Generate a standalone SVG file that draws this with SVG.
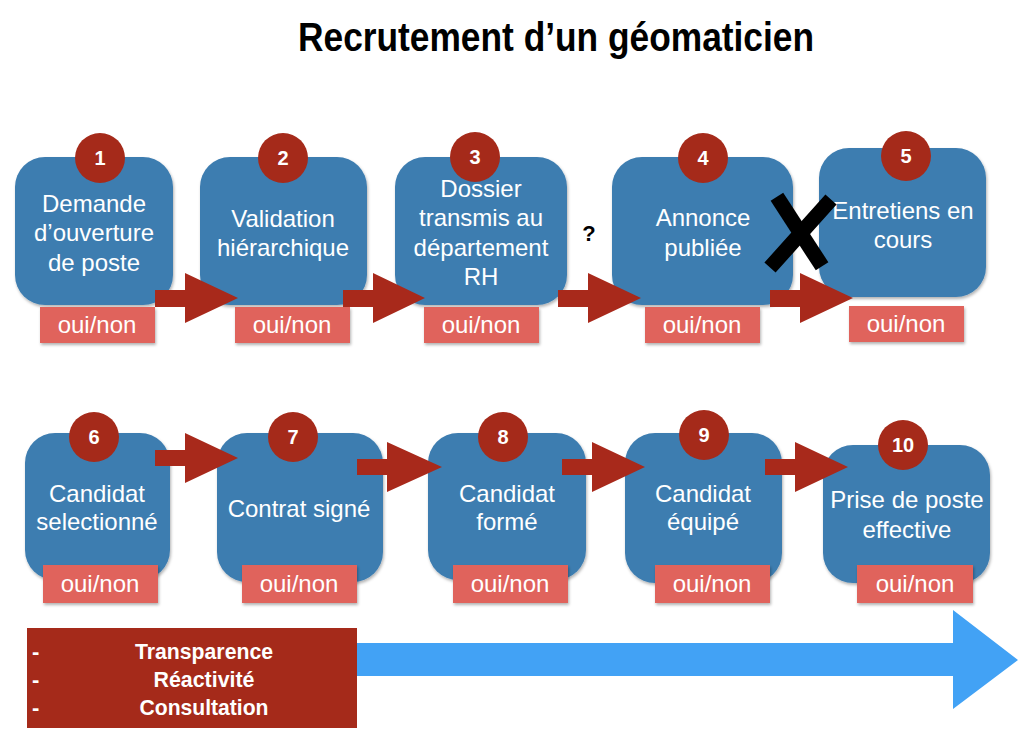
<svg xmlns="http://www.w3.org/2000/svg" width="1024" height="739" viewBox="0 0 1024 739">
<defs>
<filter id="sh" x="-10%" y="-10%" width="130%" height="130%">
<feDropShadow dx="1" dy="2" stdDeviation="1.5" flood-color="#000" flood-opacity="0.3"/>
</filter>
</defs>
<style>
.node{fill:#3e7db0;filter:url(#sh)}
.badge{fill:#a52a1a}
.num{fill:#fff;font-family:"Liberation Sans",Arial,sans-serif;font-weight:bold;font-size:20px;text-anchor:middle}
.lbl{fill:#fff;font-family:"Liberation Sans",Arial,sans-serif;font-size:24px;text-anchor:middle}
.yn{fill:#e0645c;filter:url(#sh)}
.arr{fill:#a8291b}
.title{fill:#000;font-family:"Liberation Sans",Arial,sans-serif;font-weight:bold;font-size:40px;text-anchor:middle}
.val{fill:#fff;font-family:"Liberation Sans",Arial,sans-serif;font-weight:bold;font-size:22px;text-anchor:middle}
.dash{fill:#fff;font-family:"Liberation Sans",Arial,sans-serif;font-weight:bold;font-size:22px}
</style>
<rect width="1024" height="739" fill="#fff"/>
<text class="title" x="556" y="51" textLength="516" lengthAdjust="spacingAndGlyphs">Recrutement d’un géomaticien</text>

<g id="node1">
<rect class="node" x="15" y="157" width="158" height="148" rx="30"/>
<circle class="badge" cx="100" cy="158" r="25"/><text class="num" x="100" y="165">1</text>
<text class="lbl" x="94" y="212">Demande</text><text class="lbl" x="94" y="241">d’ouverture</text><text class="lbl" x="94" y="271">de poste</text>
<rect class="yn" x="40" y="307" width="115" height="36"/><text class="lbl" x="97" y="333">oui/non</text>
</g>
<g id="node2">
<rect class="node" x="200" y="157" width="167" height="148" rx="30"/>
<circle class="badge" cx="283" cy="158" r="25"/><text class="num" x="283" y="165">2</text>
<text class="lbl" x="283" y="227">Validation</text><text class="lbl" x="283" y="256">hiérarchique</text>
<rect class="yn" x="235" y="307" width="115" height="36"/><text class="lbl" x="292" y="333">oui/non</text>
</g>
<g id="node3">
<rect class="node" x="395" y="157" width="172" height="148" rx="30"/>
<circle class="badge" cx="475" cy="157" r="25"/><text class="num" x="475" y="164">3</text>
<text class="lbl" x="481" y="197">Dossier</text><text class="lbl" x="481" y="226">transmis au</text><text class="lbl" x="481" y="256">département</text><text class="lbl" x="481" y="285">RH</text>
<rect class="yn" x="424" y="307" width="115" height="36"/><text class="lbl" x="481" y="333">oui/non</text>
</g>
<g id="node4">
<rect class="node" x="612" y="157" width="181" height="148" rx="30"/>
<circle class="badge" cx="703" cy="158" r="25"/><text class="num" x="703" y="165">4</text>
<text class="lbl" x="703" y="226">Annonce</text><text class="lbl" x="703" y="256">publiée</text>
<rect class="yn" x="645" y="307" width="115" height="36"/><text class="lbl" x="702" y="333">oui/non</text>
</g>
<g id="node5">
<rect class="node" x="819" y="148" width="167" height="149" rx="30"/>
<circle class="badge" cx="906" cy="156" r="25"/><text class="num" x="906" y="163">5</text>
<text class="lbl" x="903" y="219">Entretiens en</text><text class="lbl" x="903" y="248">cours</text>
<rect class="yn" x="849" y="306" width="115" height="36"/><text class="lbl" x="906" y="332">oui/non</text>
</g>
<g id="node6">
<rect class="node" x="25" y="433" width="145" height="147" rx="30"/>
<circle class="badge" cx="94" cy="437" r="25"/><text class="num" x="94" y="444">6</text>
<text class="lbl" x="97" y="502">Candidat</text><text class="lbl" x="97" y="530">selectionné</text>
<rect class="yn" x="43" y="565" width="115" height="38"/><text class="lbl" x="100" y="592">oui/non</text>
</g>
<g id="node7">
<rect class="node" x="217" y="433" width="166" height="149" rx="30"/>
<circle class="badge" cx="293" cy="437" r="25"/><text class="num" x="293" y="444">7</text>
<text class="lbl" x="299" y="517">Contrat signé</text>
<rect class="yn" x="242" y="565" width="115" height="38"/><text class="lbl" x="299" y="592">oui/non</text>
</g>
<g id="node8">
<rect class="node" x="428" y="433" width="158" height="147" rx="30"/>
<circle class="badge" cx="503" cy="437" r="25"/><text class="num" x="503" y="444">8</text>
<text class="lbl" x="507" y="502">Candidat</text><text class="lbl" x="507" y="530">formé</text>
<rect class="yn" x="453" y="565" width="115" height="38"/><text class="lbl" x="510" y="592">oui/non</text>
</g>
<g id="node9">
<rect class="node" x="625" y="433" width="157" height="150" rx="30"/>
<circle class="badge" cx="704" cy="435" r="25"/><text class="num" x="704" y="442">9</text>
<text class="lbl" x="703" y="502">Candidat</text><text class="lbl" x="703" y="530">équipé</text>
<rect class="yn" x="655" y="565" width="115" height="38"/><text class="lbl" x="712" y="592">oui/non</text>
</g>
<g id="node10">
<rect class="node" x="823" y="445" width="167" height="138" rx="30"/>
<circle class="badge" cx="903" cy="445" r="25"/><text class="num" x="903" y="452">10</text>
<text class="lbl" x="907" y="508">Prise de poste</text><text class="lbl" x="907" y="538">effective</text>
<rect class="yn" x="857" y="565" width="116" height="38"/><text class="lbl" x="915" y="592">oui/non</text>
</g>

<g id="connectors">
<polygon class="arr" points="155,290 185,290 185,273 238,298 185,323 185,307 155,307"/>
<polygon class="arr" points="343,290 373,290 373,273 425,298 373,323 373,307 343,307"/>
<polygon class="arr" points="558,290 588,290 588,273 641,298 588,323 588,307 558,307"/>
<polygon class="arr" points="770,290 800,290 800,273 853,298 800,323 800,307 770,307"/>
<polygon class="arr" points="155,450 185,450 185,433 238,458 185,483 185,466 155,466"/>
<polygon class="arr" points="357,459 387,459 387,442 442,467 387,492 387,475 357,475"/>
<polygon class="arr" points="562,459 592,459 592,442 645,467 592,492 592,475 562,475"/>
<polygon class="arr" points="765,459 795,459 795,442 848,467 795,492 795,475 765,475"/>
</g>

<g id="mark" fill="none" stroke="#000" stroke-width="15" stroke-linecap="square">
<path d="M781,203 L818,260"/>
<path d="M826,205 L775,262"/>
</g>
<text x="589" y="241" font-family="Liberation Sans,Arial,sans-serif" font-weight="bold" font-size="22" text-anchor="middle" fill="#000">?</text>

<g id="timeline">
<polygon fill="#42a2f5" points="357,643 953,643 953,610 1018,660 953,709 953,676 357,676"/>
</g>
<g id="values">
<rect x="27" y="628" width="330" height="100" fill="#a52a1a"/>
<text class="dash" x="32" y="659">-</text><text class="dash" x="32" y="687">-</text><text class="dash" x="32" y="715">-</text>
<text class="val" x="204" y="659" textLength="138" lengthAdjust="spacingAndGlyphs">Transparence</text>
<text class="val" x="204" y="687" textLength="101" lengthAdjust="spacingAndGlyphs">Réactivité</text>
<text class="val" x="204" y="715" textLength="129" lengthAdjust="spacingAndGlyphs">Consultation</text>
</g>
</svg>
